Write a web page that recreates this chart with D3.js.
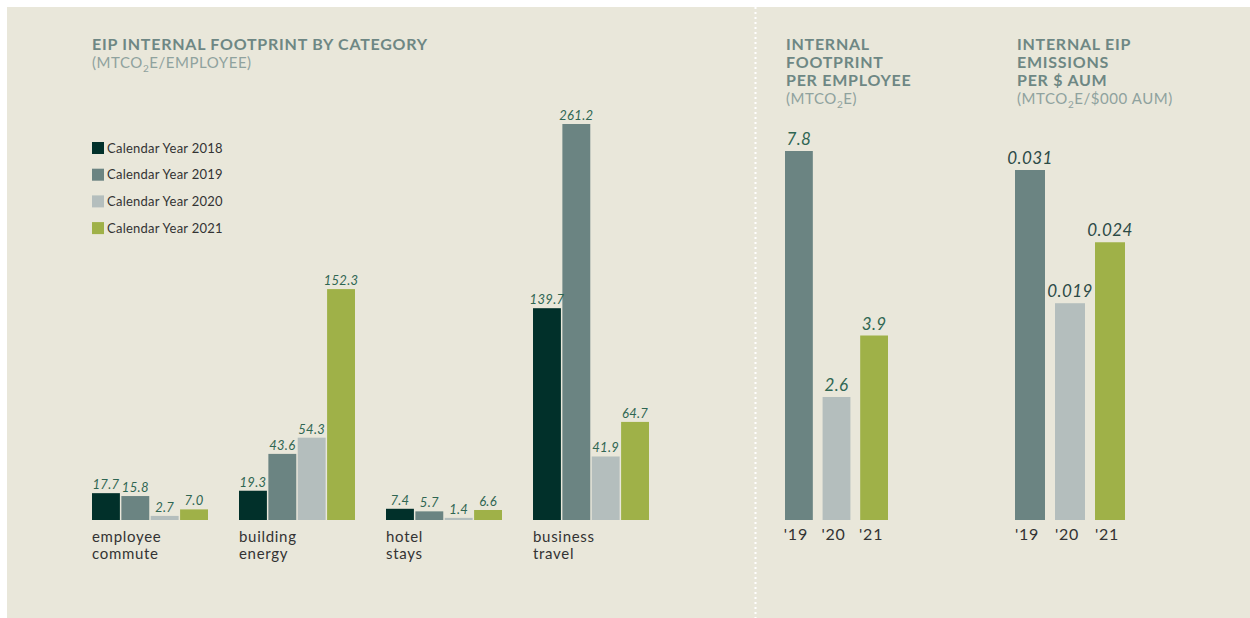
<!DOCTYPE html>
<html lang="en">
<head>
    <meta charset="UTF-8">
    <title>EIP internal footprint</title>
    <script src="https://d3js.org/d3.v7.min.js"></script>
    <style>
        body { margin: 0; background: #ffffff; }
        svg text { font-family: Lato, "Open Sans", sans-serif; }
    </style>
</head>
<body>
<script>
    const width  = 1250;
    const height = 618;
    const baseY  = 520;

    // left chart: footprint by category (MTCO2e / employee)
    const categories = [["employee", "commute"], ["building", "energy"], ["hotel", "stays"], ["business", "travel"]];
    const years      = ["Calendar Year 2018", "Calendar Year 2019", "Calendar Year 2020", "Calendar Year 2021"];
    const v2018 = [17.7, 19.3, 7.4, 139.7];
    const v2019 = [15.8, 43.6, 5.7, 261.2];
    const v2020 = [2.7, 54.3, 1.4, 41.9];
    const v2021 = [7.0, 152.3, 6.6, 64.7];
    const yearColors = ["#01302a", "#6b8482", "#b4bebd", "#9fb148"];

    // middle chart: footprint per employee
    const perEmpYears  = ["'19", "'20", "'21"];
    const perEmpValues = [7.8, 2.6, 3.9];

    // right chart: emissions per $ AUM
    const aumYears  = ["'19", "'20", "'21"];
    const aumValues = [0.031, 0.0192, 0.0246];
    const aumLabels = ["0.031", "0.019", "0.024"];
    const smallColors = ["#6b8482", "#b4bebd", "#9fb148"];

    const svg = d3.select("body").append("svg").attr("width", width).attr("height", height);

    svg.append("rect").attr("x", 7).attr("y", 7).attr("width", width - 7).attr("height", height - 7)
        .attr("fill", "#e9e7da");

    // dotted divider
    svg.append("line").attr("x1", 755.5).attr("x2", 755.5).attr("y1", 7).attr("y2", height)
        .attr("stroke", "#ffffff").attr("stroke-width", 2).attr("stroke-dasharray", "2,3");

    function title(x, y, lines, sub) {
        const t = svg.append("g");
        lines.forEach((l, i) => {
            t.append("text").attr("x", x).attr("y", y + i * 18).text(l)
                .attr("font-size", 16).attr("font-weight", 700).attr("fill", "#6e8784")
                .attr("letter-spacing", 0.75);
        });
        const s = t.append("text").attr("x", x).attr("y", y + lines.length * 18)
            .attr("font-size", 15).attr("fill", "#8fa29e").attr("letter-spacing", 0.55);
        sub.forEach(p => {
            const ts = s.append("tspan").text(p[0]);
            if (p[1]) ts.attr("font-size", 10).attr("dy", 4);
            else if (s.selectAll("tspan").size() > 1) ts.attr("dy", -4);
        });
    }

    title(92, 50, ["EIP INTERNAL FOOTPRINT BY CATEGORY"], [["(MTCO"], ["2", true], ["E/EMPLOYEE)"]]);
    title(786, 50, ["INTERNAL", "FOOTPRINT", "PER EMPLOYEE"], [["(MTCO"], ["2", true], ["E)"]]);
    title(1017, 50, ["INTERNAL EIP", "EMISSIONS", "PER $ AUM"], [["(MTCO"], ["2", true], ["E/$000 AUM)"]]);

    // legend
    const legend = svg.append("g").selectAll("g").data(years).join("g")
        .attr("transform", (d, i) => "translate(" + [92, 142 + i * 26.7] + ")");
    legend.append("rect").attr("width", 12).attr("height", 12).attr("fill", (d, i) => yearColors[i]);
    legend.append("text").attr("x", 15).attr("y", 10.5).text(d => d)
        .attr("font-size", 13).attr("fill", "#333333").attr("letter-spacing", 0.25);

    // left chart
    const series = [v2018, v2019, v2020, v2021];
    const x0 = d3.scaleBand().domain(d3.range(categories.length)).range([92, 649]).paddingInner(0.211);
    const x1 = d3.scaleBand().domain(d3.range(years.length)).range([0, x0.bandwidth()]).paddingInner(0.05);
    const yL = d3.scaleLinear().domain([0, 261.2]).range([baseY, 124]);

    const bars = [];
    categories.forEach((c, ci) => series.forEach((s, si) => bars.push({ci, si, v: s[ci]})));

    const gl = svg.append("g");
    gl.selectAll("rect").data(bars).join("rect")
        .attr("x", d => x0(d.ci) + x1(d.si))
        .attr("y", d => yL(d.v))
        .attr("width", x1.bandwidth())
        .attr("height", d => baseY - yL(d.v))
        .attr("fill", d => yearColors[d.si]);
    gl.selectAll("text.val").data(bars).join("text").attr("class", "val")
        .attr("x", d => x0(d.ci) + x1(d.si) + x1.bandwidth() / 2)
        .attr("y", d => yL(d.v) - 4)
        .attr("text-anchor", "middle").attr("font-size", 13).attr("font-style", "italic")
        .attr("fill", "#2f6652").attr("letter-spacing", 0.3)
        .text(d => d3.format(".1f")(d.v));

    const catText = gl.selectAll("text.cat").data(categories).join("text").attr("class", "cat")
        .attr("x", (d, i) => x0(i)).attr("y", 542)
        .attr("font-size", 15).attr("fill", "#333333").attr("letter-spacing", 0.7);
    catText.selectAll("tspan").data(d => d).join("tspan")
        .attr("x", function () { return this.parentNode.getAttribute("x"); })
        .attr("dy", (d, i) => i ? 17 : 0).text(d => d);

    // small charts
    function smallChart(cats, vals, labels, range, pad, maxV, topY, labelColor) {
        const x = d3.scaleBand().domain(cats).range(range).paddingInner(pad);
        const y = d3.scaleLinear().domain([0, maxV]).range([baseY, topY]);
        const g = svg.append("g");
        g.selectAll("rect").data(vals).join("rect")
            .attr("x", (d, i) => x(cats[i])).attr("y", d => y(d))
            .attr("width", x.bandwidth()).attr("height", d => baseY - y(d))
            .attr("fill", (d, i) => smallColors[i]);
        g.selectAll("text.val").data(vals).join("text").attr("class", "val")
            .attr("x", (d, i) => x(cats[i]) + x.bandwidth() / 2)
            .attr("y", d => y(d) - 6)
            .attr("text-anchor", "middle").attr("font-size", 17).attr("font-style", "italic")
            .attr("fill", labelColor).attr("letter-spacing", 0.4)
            .text((d, i) => labels[i]);
        const ax = svg.append("g").attr("transform", "translate(-3," + baseY + ")")
            .call(d3.axisBottom(x).tickSize(0).tickPadding(9));
        ax.select(".domain").remove();
        ax.selectAll("text").attr("font-size", 16).attr("fill", "#333333").attr("letter-spacing", 0.8)
            .style("font-family", "Lato, 'Open Sans', sans-serif");
    }

    smallChart(perEmpYears, perEmpValues, perEmpValues.map(d3.format(".1f")), [785, 888], 0.26, 7.8, 151, "#2f6652");
    smallChart(aumYears, aumValues, aumLabels, [1015, 1125], 0.25, 0.031, 170, "#2c4a46");
</script>
</body>
</html>
